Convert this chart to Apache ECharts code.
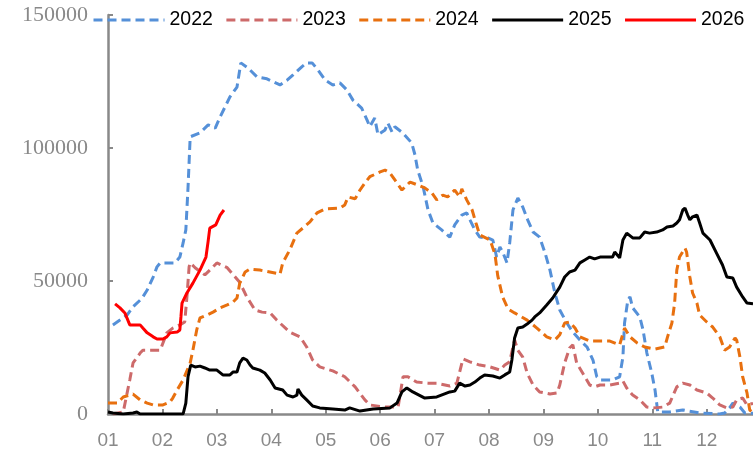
<!DOCTYPE html>
<html>
<head>
<meta charset="utf-8">
<title>chart</title>
<script src="https://cdn.jsdelivr.net/npm/echarts@6/dist/echarts.min.js"></script>
<style>
  html, body { margin: 0; padding: 0; background: #fff; }
  #main { width: 753px; height: 471px; }
</style>
</head>
<body>
<div id="main"></div>
<script>
// 横轴刻度（月份位置）与标签
const monthTicks = [1, 2, 3, 4, 5, 6, 7, 8, 9, 10, 11, 12]
const monthLabels = ['01', '02', '03', '04', '05', '06', '07', '08', '09', '10', '11', '12']

// 各年份数据：[月份位置, 数值]
const data2022 = [
  [1.09, 33500], [1.22, 35300], [1.35, 37200], [1.46, 40300], [1.59, 42800], [1.64, 44000],
  [1.72, 46600], [1.83, 51500], [1.90, 55300], [1.96, 56800], [2.23, 56800], [2.32, 59000],
  [2.38, 64300], [2.43, 69200], [2.47, 85000], [2.51, 104200], [2.69, 105700], [2.84, 108700],
  [2.97, 107500], [3.06, 111700], [3.24, 119200], [3.37, 122900], [3.44, 132000], [3.57, 130100],
  [3.74, 126700], [3.92, 126000], [4.16, 123700], [4.29, 125500], [4.40, 127500], [4.56, 130500],
  [4.65, 132000], [4.75, 132000], [4.86, 129300], [4.99, 125500], [5.13, 123700], [5.26, 124500],
  [5.39, 121800], [5.50, 118000], [5.66, 115000], [5.76, 110500], [5.81, 108000], [5.90, 111300],
  [5.96, 105000], [6.09, 106800], [6.14, 109400], [6.22, 106000], [6.27, 108000], [6.42, 105600],
  [6.58, 101900], [6.64, 97400], [6.69, 91700], [6.79, 85400], [6.88, 76700], [6.97, 71800],
  [7.13, 69200], [7.28, 66500], [7.37, 71100], [7.50, 74800], [7.59, 75600], [7.65, 73000],
  [7.74, 69200], [7.83, 66500], [7.98, 66200], [8.07, 65400], [8.14, 59000], [8.20, 62800],
  [8.25, 61000], [8.33, 56800], [8.38, 64300], [8.44, 76700], [8.53, 81200], [8.62, 77800],
  [8.71, 73000], [8.81, 68400], [8.93, 66500], [9.03, 60500], [9.12, 54100], [9.21, 45500],
  [9.30, 39100], [9.43, 34200], [9.54, 30800], [9.67, 27800], [9.80, 25200], [9.91, 20300],
  [9.98, 14000], [10.04, 12800], [10.27, 12800], [10.40, 14000], [10.46, 21400], [10.49, 34200],
  [10.55, 42800], [10.59, 44000], [10.64, 39900], [10.77, 36500], [10.83, 31600], [10.90, 22900],
  [10.99, 15400], [11.05, 9000], [11.08, 4100], [11.10, 750], [11.32, 750], [11.56, 1500],
  [11.87, 400], [12.24, 0], [12.33, 400], [12.42, 2300], [12.48, 4100], [12.61, 2600],
  [12.70, 400], [12.85, 300]
]
const data2023 = [
  [1.09, 0], [1.28, 750], [1.40, 12800], [1.46, 19200], [1.59, 22900], [1.64, 24000],
  [1.96, 24000], [2.01, 26700], [2.08, 30500], [2.19, 32300], [2.32, 33500], [2.41, 34600],
  [2.45, 44000], [2.49, 55300], [2.51, 56800], [2.60, 55000], [2.78, 52300], [2.93, 55300],
  [3.00, 56800], [3.19, 55000], [3.42, 49500], [3.55, 44000], [3.70, 39100], [3.83, 38300],
  [3.98, 38000], [4.10, 35300], [4.34, 30800], [4.53, 29000], [4.65, 25200], [4.76, 20300],
  [4.89, 17700], [5.13, 16200], [5.35, 14000], [5.54, 10200], [5.72, 5300], [5.81, 3400],
  [6.09, 2600], [6.33, 2600], [6.42, 14000], [6.51, 14000], [6.67, 12000], [6.88, 11600],
  [7.04, 11600], [7.28, 10500], [7.41, 11600], [7.52, 20700], [7.65, 19600], [7.83, 18400],
  [8.02, 17700], [8.20, 16500], [8.29, 18400], [8.38, 19600], [8.44, 25200], [8.47, 27800],
  [8.53, 24000], [8.62, 21400], [8.70, 15400], [8.81, 10900], [8.93, 8300], [9.12, 7500],
  [9.25, 7900], [9.30, 10900], [9.39, 19200], [9.48, 24800], [9.54, 26000], [9.61, 19200],
  [9.72, 15400], [9.85, 10900], [9.94, 10200], [10.04, 10900], [10.22, 10900], [10.40, 11600],
  [10.46, 12400], [10.53, 9800], [10.64, 7100], [10.77, 5300], [10.90, 2600], [11.05, 2300],
  [11.19, 2600], [11.32, 4100], [11.45, 10200], [11.56, 11600], [11.69, 10900], [11.82, 9000],
  [12.00, 7900], [12.11, 6000], [12.24, 3400], [12.37, 2300], [12.48, 2600], [12.55, 5300],
  [12.66, 6000], [12.74, 3400], [12.85, 4000]
]
const data2024 = [
  [1.00, 4100], [1.17, 4100], [1.28, 6400], [1.46, 7500], [1.59, 5300], [1.72, 4100],
  [1.83, 3400], [2.01, 3400], [2.14, 4500], [2.19, 6000], [2.27, 9000], [2.38, 12800],
  [2.51, 19200], [2.56, 24000], [2.63, 31600], [2.69, 36100], [2.82, 37200], [2.93, 38300],
  [3.06, 39900], [3.19, 41000], [3.30, 42100], [3.37, 43600], [3.42, 49200], [3.52, 53400],
  [3.61, 54500], [3.79, 54100], [4.16, 52600], [4.21, 56800], [4.34, 61700], [4.47, 68000],
  [4.58, 69900], [4.71, 72200], [4.84, 75600], [4.99, 77100], [5.26, 77400], [5.35, 78600],
  [5.41, 81600], [5.54, 80900], [5.63, 84200], [5.72, 86900], [5.81, 89200], [6.00, 91000],
  [6.09, 91700], [6.18, 90600], [6.27, 88000], [6.40, 84200], [6.55, 87200], [6.69, 86100],
  [6.82, 85000], [6.95, 83100], [7.04, 80500], [7.15, 82300], [7.24, 81600], [7.37, 84200],
  [7.46, 81600], [7.50, 84600], [7.59, 80500], [7.69, 76700], [7.76, 71800], [7.83, 67300],
  [8.02, 65400], [8.11, 60000], [8.16, 52000], [8.25, 44000], [8.35, 39500], [8.47, 38000],
  [8.70, 35300], [8.88, 32300], [9.06, 29000], [9.21, 27800], [9.30, 29800], [9.39, 34200],
  [9.48, 34600], [9.58, 32300], [9.67, 29000], [9.85, 27400], [10.22, 27400], [10.40, 26000],
  [10.49, 32300], [10.59, 29000], [10.72, 26700], [10.86, 25200], [11.05, 24400], [11.23, 25200],
  [11.28, 29000], [11.36, 34200], [11.41, 41700], [11.45, 54100], [11.50, 59000], [11.60, 62400],
  [11.63, 60900], [11.69, 51500], [11.74, 45500], [11.82, 41700], [11.87, 37200], [12.00, 34600],
  [12.11, 32700], [12.24, 29000], [12.33, 24000], [12.42, 25200], [12.52, 28600], [12.55, 27800],
  [12.61, 21400], [12.66, 14000], [12.74, 7900], [12.79, 1500], [12.85, 500]
]
const data2025 = [
  [1.00, 750], [1.09, 400], [1.28, 0], [1.46, 400], [1.53, 750], [1.59, 0], [2.38, 0],
  [2.43, 4100], [2.47, 14000], [2.52, 18400], [2.60, 17700], [2.69, 18000], [2.78, 17300],
  [2.87, 16500], [3.00, 16500], [3.11, 14700], [3.24, 14700], [3.30, 15800], [3.37, 15800],
  [3.42, 19200], [3.48, 21000], [3.55, 20300], [3.61, 18400], [3.66, 17300], [3.79, 16500],
  [3.88, 15400], [3.98, 12800], [4.07, 9800], [4.21, 9000], [4.29, 7100], [4.40, 6400],
  [4.47, 7100], [4.49, 9400], [4.56, 7100], [4.65, 5300], [4.76, 3000], [4.89, 2300],
  [5.13, 1900], [5.35, 1500], [5.44, 2300], [5.63, 1100], [5.87, 1900], [6.18, 2300],
  [6.31, 4100], [6.40, 8300], [6.49, 9800], [6.60, 8300], [6.82, 6000], [7.04, 6400],
  [7.28, 8300], [7.37, 8600], [7.46, 11600], [7.56, 10500], [7.65, 10900], [7.74, 12000],
  [7.83, 13500], [7.92, 14700], [8.07, 14300], [8.20, 13500], [8.29, 14700], [8.38, 15800],
  [8.42, 20300], [8.47, 28600], [8.53, 32300], [8.62, 32700], [8.70, 33800], [8.79, 35300],
  [8.84, 36500], [8.93, 38000], [9.06, 41000], [9.17, 43600], [9.30, 47700], [9.39, 51500],
  [9.48, 53400], [9.58, 54100], [9.67, 56800], [9.76, 57900], [9.85, 59000], [9.94, 58300],
  [10.04, 59000], [10.27, 59000], [10.31, 60900], [10.40, 58700], [10.46, 65400], [10.53, 68000],
  [10.64, 66200], [10.77, 66200], [10.86, 68400], [10.95, 68000], [11.08, 68400], [11.19, 69200],
  [11.27, 70300], [11.38, 70700], [11.45, 71800], [11.50, 73000], [11.56, 76700], [11.60, 77400],
  [11.65, 74800], [11.69, 73000], [11.74, 74100], [11.82, 74800], [11.87, 71800], [11.93, 68000],
  [12.06, 65400], [12.18, 60500], [12.29, 56000], [12.37, 51500], [12.48, 51100], [12.55, 47700],
  [12.66, 44000], [12.74, 41700], [12.85, 41400]
]
const data2026 = [
  [1.13, 41400], [1.22, 39900], [1.31, 38000], [1.40, 33500], [1.59, 33500], [1.64, 32300],
  [1.72, 30500], [1.83, 29000], [1.90, 28200], [2.01, 28200], [2.08, 29000], [2.14, 30500],
  [2.27, 30800], [2.32, 31600], [2.34, 36500], [2.36, 41700], [2.45, 45500], [2.56, 49200],
  [2.69, 54100], [2.80, 59000], [2.84, 65000], [2.87, 69900], [2.98, 71100], [3.06, 74800],
  [3.13, 76700]
]

// 系列名称与颜色
const seriesNames = ['2022', '2023', '2024', '2025', '2026']
const seriesColors = ['#5590d8', '#cd6a6a', '#e8700f', '#000000', '#ff0000']
const seriesDashed = [true, true, true, false, false]
const seriesData = [data2022, data2023, data2024, data2025, data2026]

let chart = echarts.init(document.getElementById('main'), null, { renderer: 'canvas' })

let series = seriesNames.map((name, i) => ({
  name: name,
  type: 'line',
  data: seriesData[i],
  symbol: 'none',
  smooth: false,
  animation: false,
  lineStyle: {
    color: seriesColors[i],
    width: 3,
    type: seriesDashed[i] ? [9, 5] : 'solid'
  },
  itemStyle: { color: seriesColors[i] }
}))

let option = {
  animation: false,
  legend: {
    left: 92,
    top: 10,
    width: 740, // 放宽宽度，避免图例换行
    padding: 0,
    itemWidth: 71,
    itemHeight: 14,
    itemGap: 12,
    itemStyle: { opacity: 0 }, // 图例只显示线条，不显示圆点
    lineStyle: { width: 3 },
    textStyle: {
      fontFamily: 'Liberation Sans',
      fontSize: 19.5,
      color: '#000'
    },
    data: seriesNames
  },
  grid: {
    left: 108,
    right: 0,
    top: 15,
    bottom: 57,
    containLabel: false
  },
  xAxis: {
    type: 'value',
    min: 1,
    max: 12.85,
    interval: 1,
    splitLine: { show: false },
    axisLine: { lineStyle: { color: '#898989', width: 2.5 } },
    axisTick: {
      inside: true,
      length: 5,
      customValues: monthTicks,
      lineStyle: { color: '#898989', width: 2 }
    },
    axisLabel: {
      customValues: monthTicks,
      margin: 17,
      color: '#898989',
      fontFamily: 'Liberation Sans',
      fontSize: 19,
      formatter: (v) => monthLabels[monthTicks.indexOf(Math.round(v))] || ''
    }
  },
  yAxis: {
    type: 'value',
    min: 0,
    max: 150000,
    interval: 50000,
    splitLine: { show: false },
    axisLine: { show: true, lineStyle: { color: '#898989', width: 2.5 } },
    axisTick: {
      show: true,
      inside: true,
      length: 5,
      lineStyle: { color: '#898989', width: 2 }
    },
    axisLabel: {
      margin: 20,
      color: '#898989',
      fontFamily: 'Liberation Serif',
      fontSize: 22,
      formatter: (v) => String(v)
    }
  },
  series: series
}

chart.setOption(option)
</script>
</body>
</html>
